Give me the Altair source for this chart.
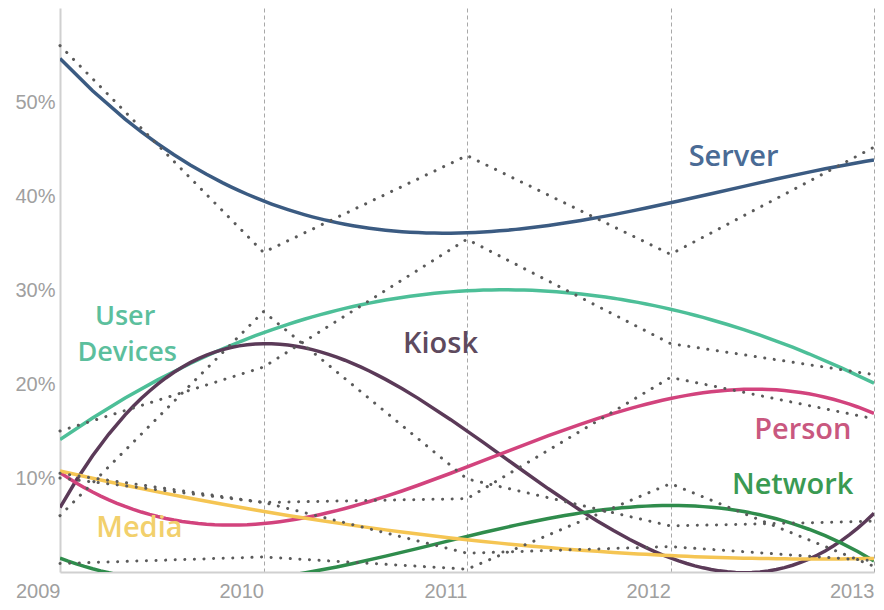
import altair as alt
import pandas as pd

years = [2009, 2010, 2011, 2012, 2013]
series_names = ["Server", "User Devices", "Kiosk", "Person", "Network", "Media"]
server = [56.0, 34.0, 44.3, 33.8, 45.2]
user_devices = [15.0, 21.8, 35.4, 24.3, 21.0]
kiosk = [6.0, 27.7, 9.9, 4.9, 5.4]
person = [10.0, 7.4, 7.8, 20.7, 16.3]
network = [0.9, 1.6, 0.3, 9.4, 0.6]
media = [10.5, 7.4, 2.0, 2.7, 1.2]

line_colors = ["#3b5b82", "#4dbf98", "#5b3a58", "#d2437d", "#2f8c4c", "#f5c553"]

label_text = ["Server", "User", "Devices", "Kiosk", "Person", "Network", "Media"]
label_colors = ["#4a6b95", "#5cbf9d", "#5cbf9d", "#5e4a5e", "#c9587f", "#3a9a52", "#f2d06c"]
label_year = [2012.31, 2009.32, 2009.33, 2010.87, 2012.65, 2012.60, 2009.39]
label_value = [44.1, 27.1, 23.3, 24.3, 15.1, 9.3, 4.7]
label_size = [29, 27, 27, 29, 29, 29, 29]

all_values = [server, user_devices, kiosk, person, network, media]
rows = []
for name, vals in zip(series_names, all_values):
    for yr, v in zip(years, vals):
        rows.append({"series": name, "year": yr, "value": v})
df = pd.DataFrame(rows)

labels_df = pd.DataFrame({
    "text": label_text,
    "year": label_year,
    "value": label_value,
    "color": label_colors,
    "size": label_size,
})

axis_font = "Liberation Sans, Arial, sans-serif"

x_enc = alt.X(
    "year:Q",
    scale=alt.Scale(domain=[2009, 2013], nice=False, zero=False),
    axis=alt.Axis(
        values=years, format="d", labelAlign="right", labelFontSize=20,
        labelColor="#a0a0a0", labelFont=axis_font,
        grid=True, gridDash=[4, 3], gridColor="#a8a8a8", gridWidth=1,
        gridOpacity={"condition": {"test": "datum.value === 2009", "value": 0}, "value": 1},
        ticks=False, domainColor="#d0d0d0", domainWidth=2, labelPadding=9, title=None,
    ),
)
y_enc = alt.Y(
    "value:Q",
    scale=alt.Scale(domain=[0, 60], nice=False),
    axis=alt.Axis(
        values=[10, 20, 30, 40, 50], labelExpr="datum.value + '%'", grid=False,
        ticks=False, domainColor="#d0d0d0", domainWidth=2, labelFontSize=20,
        labelColor="#a0a0a0", labelFont=axis_font,
        labelPadding=5, title=None,
    ),
)

base = alt.Chart(df)

trend = base.transform_regression(
    "year", "value", method="poly", order=3, groupby=["series"]
).mark_line(strokeWidth=3.5, clip=True).encode(
    x=x_enc,
    y=y_enc,
    color=alt.Color("series:N", scale=alt.Scale(domain=series_names, range=line_colors), legend=None),
    detail="series:N",
)

dotted = base.mark_line(
    color="#5a5a5a", strokeWidth=3, strokeCap="round", strokeDash=[0.1, 9.5]
).encode(x=x_enc, y=y_enc, detail="series:N")

text = alt.Chart(labels_df).mark_text(
    font="Open Sans", fontWeight=600, align="center", baseline="middle",
).encode(
    x="year:Q", y="value:Q", text="text:N",
    color=alt.Color("color:N", scale=None),
    size=alt.Size("size:Q", scale=None),
)

chart = alt.layer(trend, dotted, text).properties(
    width=814, height=564,
    padding={"left": 52, "top": 0, "right": 2, "bottom": 29},
    autosize="none",
).configure_view(strokeWidth=0)

chart.save("out.html", embed_options={"renderer": "svg", "actions": False})
